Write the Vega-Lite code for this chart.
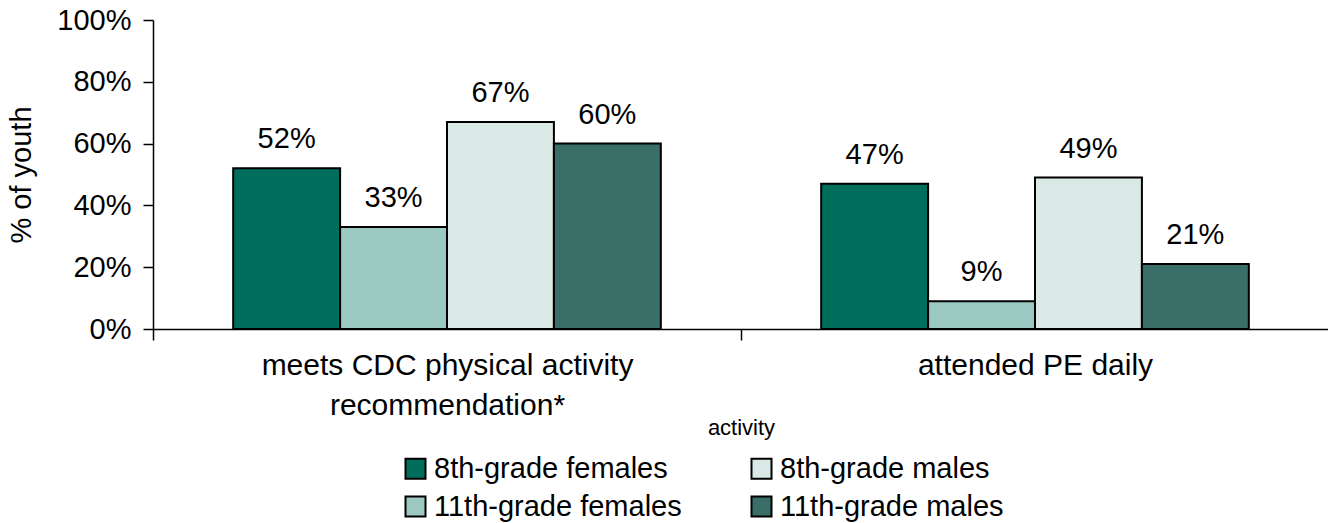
{
  "$schema": "https://vega.github.io/schema/vega-lite/v6.json",
  "autosize": {"type": "none"},
  "width": 1176,
  "height": 309,
  "padding": {"left": 153, "top": 20, "right": 0, "bottom": 194},
  "background": "white",
  "config": {
    "view": {"stroke": null},
    "font": "Liberation Sans",
    "axis": {"labelFont": "Liberation Sans", "titleFont": "Liberation Sans", "labelColor": "black", "titleColor": "black", "domainColor": "black", "tickColor": "black", "grid": false}
  },
  "data": {
    "values": [
      {"activity": "meets CDC physical activity recommendation*", "group": "8th-grade females", "value": 0.52, "label": "52%"},
      {"activity": "meets CDC physical activity recommendation*", "group": "11th-grade females", "value": 0.33, "label": "33%"},
      {"activity": "meets CDC physical activity recommendation*", "group": "8th-grade males", "value": 0.67, "label": "67%"},
      {"activity": "meets CDC physical activity recommendation*", "group": "11th-grade males", "value": 0.60, "label": "60%"},
      {"activity": "attended PE daily", "group": "8th-grade females", "value": 0.47, "label": "47%"},
      {"activity": "attended PE daily", "group": "11th-grade females", "value": 0.09, "label": "9%"},
      {"activity": "attended PE daily", "group": "8th-grade males", "value": 0.49, "label": "49%"},
      {"activity": "attended PE daily", "group": "11th-grade males", "value": 0.21, "label": "21%"}
    ]
  },
  "encoding": {
    "x": {
      "field": "activity", "type": "nominal",
      "sort": ["meets CDC physical activity recommendation*", "attended PE daily"],
      "scale": {"paddingInner": 0, "paddingOuter": 0},
      "axis": {
        "title": "activity", "titleFontSize": 22, "titleFontWeight": "normal", "titlePadding": -3,
        "labelFontSize": 30, "labelAngle": 0, "labelPadding": 10, "labelLineHeight": 40, "labelLimit": 600,
        "labelExpr": "datum.value == 'meets CDC physical activity recommendation*' ? ['meets CDC physical activity', 'recommendation*'] : datum.value",
        "tickBand": "extent", "tickSize": 11, "domainWidth": 1.5, "tickWidth": 1.5
      }
    },
    "xOffset": {
      "field": "group", "type": "nominal",
      "sort": ["8th-grade females", "11th-grade females", "8th-grade males", "11th-grade males"],
      "scale": {"paddingInner": 0, "paddingOuter": 0.75}
    },
    "y": {
      "field": "value", "type": "quantitative",
      "scale": {"domain": [0, 1]},
      "axis": {
        "title": "% of youth", "titleFontSize": 29, "titleFontWeight": "normal", "titlePadding": 20,
        "format": ".0%", "values": [0, 0.2, 0.4, 0.6, 0.8, 1],
        "labelFontSize": 29, "labelPadding": 12, "tickSize": 10, "domainWidth": 1.5, "tickWidth": 1.5
      }
    }
  },
  "layer": [
    {
      "mark": {"type": "bar", "stroke": "black", "strokeWidth": 2},
      "encoding": {
        "color": {
          "field": "group", "type": "nominal",
          "scale": {
            "domain": ["8th-grade females", "11th-grade females", "8th-grade males", "11th-grade males"],
            "range": ["#006E5C", "#9CC8C2", "#DAE8E6", "#3A6E68"]
          },
          "legend": {
            "title": null, "orient": "none", "legendX": 248, "legendY": 434,
            "columns": 2, "columnPadding": 65, "rowPadding": 8,
            "symbolType": "square", "symbolSize": 400, "symbolStrokeColor": "black", "symbolStrokeWidth": 2, "symbolOpacity": 1,
            "labelFontSize": 29, "labelColor": "black", "labelFont": "Liberation Sans", "labelOffset": 4, "labelLimit": 400
          }
        }
      }
    },
    {
      "mark": {"type": "text", "fontSize": 29, "baseline": "alphabetic", "dy": -20, "color": "black"},
      "encoding": {"text": {"field": "label"}}
    }
  ]
}
